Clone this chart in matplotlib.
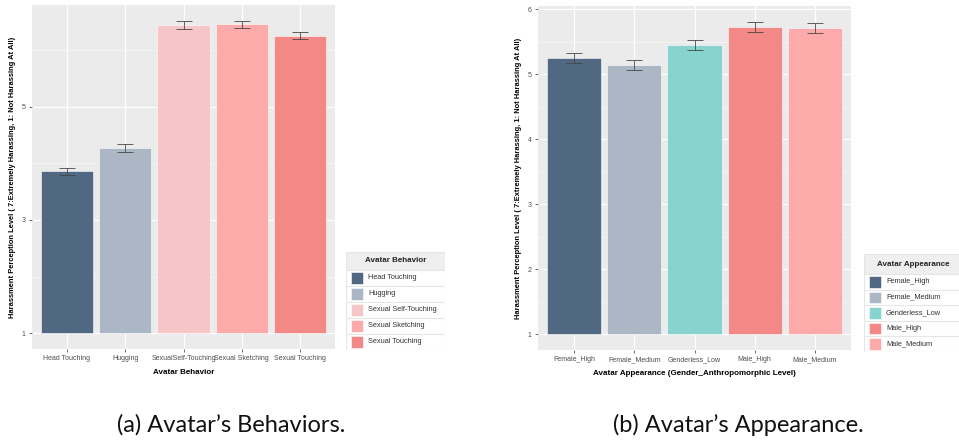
import matplotlib
matplotlib.use("Agg")
import matplotlib.pyplot as plt
from matplotlib.patches import Rectangle
from matplotlib.ticker import FixedLocator

# ---------------- data ----------------
behaviors = ["Head Touching", "Hugging", "Sexual Self-Touching", "Sexual Sketching", "Sexual Touching"]
behavior_ticklabels = ["Head Touching", "Hugging", "SexualSelf-Touching", "Sexual Sketching", "Sexual Touching"]
behavior_means = [3.86, 4.27, 6.43, 6.45, 6.25]
behavior_err = [0.06, 0.07, 0.07, 0.065, 0.06]
behavior_colors = ["#506882", "#abb7c5", "#f6c5c7", "#fdaaab", "#f28987"]

appearances = ["Female_High", "Female_Medium", "Genderless_Low", "Male_High", "Male_Medium"]
appearance_means = [5.25, 5.14, 5.45, 5.73, 5.71]
appearance_err = [0.077, 0.077, 0.077, 0.08, 0.077]
appearance_colors = ["#506882", "#abb7c5", "#87d4ce", "#f28987", "#fdaaab"]

ylabel = "Harassment Perception Level ( 7:Extremely Harassing, 1: Not Harassing At All)"
captions = ["(a) Avatar\u2019s Behaviors.", "(b) Avatar\u2019s Appearance."]

FONT = ["Liberation Sans", "DejaVu Sans"]
W, H = 959, 440
fig = plt.figure(figsize=(W / 100, H / 100), dpi=100)


def fbox(x0, y0, x1, y1):
    """pixel box (top-left origin) -> figure fraction rect"""
    return [x0 / W, 1 - y1 / H, (x1 - x0) / W, (y1 - y0) / H]


def panel(rect, labels, means, errs, colors, ylim, major, minor, xlabel):
    ax = fig.add_axes(rect)
    ax.set_facecolor("#ebebeb")
    for s in ax.spines.values():
        s.set_visible(False)
    x = list(range(len(labels)))
    ax.set_xlim(-0.6, len(labels) - 0.4)
    ax.set_ylim(*ylim)
    ax.yaxis.set_major_locator(FixedLocator(major))
    ax.yaxis.set_minor_locator(FixedLocator(minor))
    ax.set_xticks(x)
    ax.set_xticklabels(labels, fontsize=5, color="#4d4d4d", family=FONT)
    ax.set_yticklabels([str(m) for m in major], fontsize=5, color="#4d4d4d", family=FONT)
    ax.grid(True, which="major", color="white", linewidth=0.9)
    ax.grid(True, which="minor", axis="y", color="#f7f7f7", linewidth=0.5)
    ax.set_axisbelow(True)
    ax.tick_params(which="major", length=2.5, width=0.6, color="#555555", pad=2)
    ax.tick_params(which="minor", length=0)
    heights = [m - 1 for m in means]
    ax.bar(x, heights, bottom=1, width=0.9, color=colors, edgecolor="#ffffff", linewidth=0.4, zorder=2)
    ax.errorbar(x, means, yerr=errs, fmt="none", ecolor="#444444", elinewidth=0.7,
                capsize=5.5, capthick=0.7, alpha=0.85, zorder=3)
    ax.set_xlabel(xlabel, fontsize=5.8, fontweight="bold", family=FONT, labelpad=5)
    ax.set_ylabel(ylabel, fontsize=5.4, fontweight="bold", family=FONT, labelpad=4)
    return ax


def legend(px0, py0, px1, title_h, row_h, title, labels, colors, sw_x, txt_x):
    n = len(labels)
    py1 = py0 + title_h + n * row_h
    lax = fig.add_axes(fbox(px0, py0, px1, py1))
    lax.set_xlim(px0, px1)
    lax.set_ylim(py1, py0)
    lax.axis("off")
    lax.add_patch(Rectangle((px0, py0), px1 - px0, py1 - py0, facecolor="white",
                            edgecolor="#e6e6e6", linewidth=0.8))
    lax.add_patch(Rectangle((px0, py0), px1 - px0, title_h, facecolor="#efefef",
                            edgecolor="#e6e6e6", linewidth=0.8))
    lax.text((px0 + px1) / 2 if px1 < W else px0 + 49, py0 + title_h / 2, title,
             ha="center", va="center", fontsize=5.8, fontweight="bold", family=FONT, color="#222222")
    for i, (lab, col) in enumerate(zip(labels, colors)):
        ry = py0 + title_h + i * row_h
        if i > 0:
            lax.plot([px0, px1], [ry, ry], color="#e6e6e6", linewidth=0.8)
        lax.add_patch(Rectangle((sw_x, ry + 2), 12, row_h - 4, facecolor=col, edgecolor="#ffffff", linewidth=0.4))
        lax.text(txt_x, ry + row_h / 2, lab, ha="left", va="center", fontsize=5.3,
                 family=FONT, color="#333333")


# left panel
panel(fbox(32, 5, 335, 349), behavior_ticklabels, behavior_means, behavior_err, behavior_colors,
      (0.724, 6.79), [1, 3, 5], [2, 4, 6], "Avatar Behavior")
legend(346, 252, 445, 17.5, 16, "Avatar Behavior", behaviors, behavior_colors, 351, 368)

# right panel
panel(fbox(538, 6, 851, 350), appearances, appearance_means, appearance_err, appearance_colors,
      (0.76, 6.05), [1, 2, 3, 4, 5, 6], [1.5, 2.5, 3.5, 4.5, 5.5],
      "Avatar Appearance (Gender_Anthropomorphic Level)")
legend(864, 254, 962, 20, 15.5, "Avatar Appearance", appearances, appearance_colors, 869, 886)

# captions
fig.text(231 / W, 1 - 425 / H, captions[0], ha="center", va="center", fontsize=17,
         family=["Lato", "DejaVu Sans"], color="#111111")
fig.text(738 / W, 1 - 425 / H, captions[1], ha="center", va="center", fontsize=17,
         family=["Lato", "DejaVu Sans"], color="#111111")

fig.savefig("out.png", dpi=100)
